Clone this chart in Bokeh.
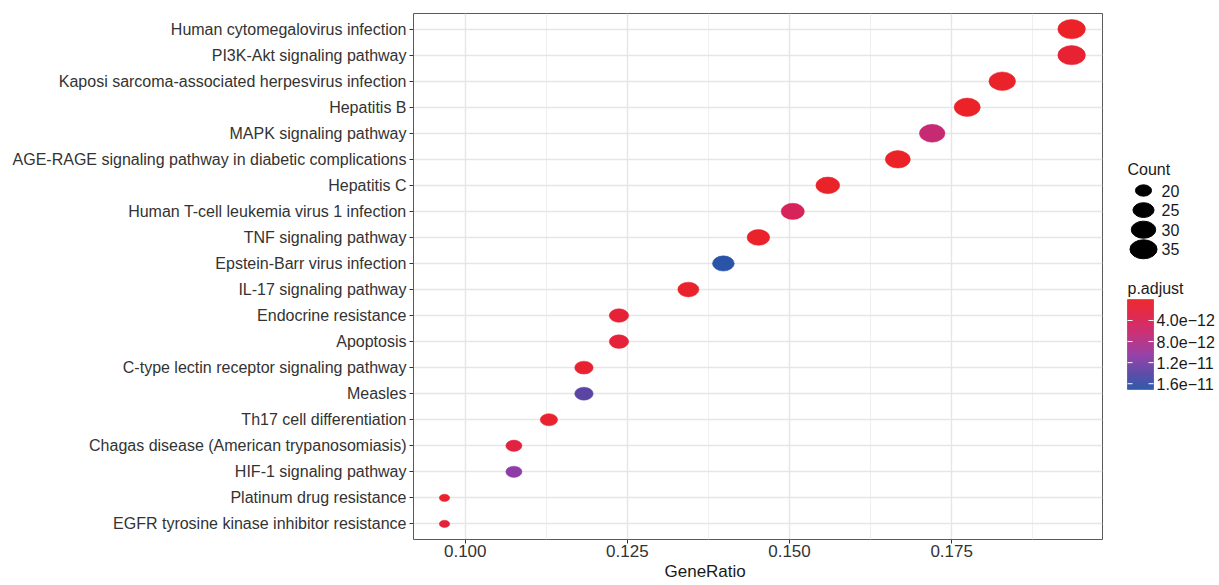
import numpy as np
from bokeh.plotting import figure
from bokeh.layouts import row
from bokeh.models import (Range1d, FixedTicker, ColumnDataSource, LinearColorMapper, Title)
from bokeh.core.properties import value
from bokeh.embed import file_html
from bokeh.resources import INLINE

# ---------------- data ----------------
pathways = [
    "Human cytomegalovirus infection",
    "PI3K-Akt signaling pathway",
    "Kaposi sarcoma-associated herpesvirus infection",
    "Hepatitis B",
    "MAPK signaling pathway",
    "AGE-RAGE signaling pathway in diabetic complications",
    "Hepatitis C",
    "Human T-cell leukemia virus 1 infection",
    "TNF signaling pathway",
    "Epstein-Barr virus infection",
    "IL-17 signaling pathway",
    "Endocrine resistance",
    "Apoptosis",
    "C-type lectin receptor signaling pathway",
    "Measles",
    "Th17 cell differentiation",
    "Chagas disease (American trypanosomiasis)",
    "HIF-1 signaling pathway",
    "Platinum drug resistance",
    "EGFR tyrosine kinase inhibitor resistance",
]
gene_ratio = [0.1935, 0.1935, 0.1828, 0.1774, 0.1720, 0.1667, 0.1559, 0.1505,
              0.1452, 0.1398, 0.1344, 0.1237, 0.1237, 0.1183, 0.1183, 0.1129,
              0.1075, 0.1075, 0.0968, 0.0968]
counts = [36, 36, 34, 33, 32, 31, 29, 28, 27, 26, 25, 23, 23, 22, 22, 21, 20, 20, 18, 18]
p_adjust = [1.0e-13, 1.2e-12, 3.0e-13, 2.0e-13, 6.5e-12, 2.0e-14, 4.0e-13, 4.5e-12,
            5.0e-13, 1.71e-11, 6.0e-13, 1.5e-12, 1.8e-12, 1.0e-12, 1.4e-11, 8.0e-13,
            2.5e-12, 1.1e-11, 5.0e-13, 2.0e-12]

x_ticks = [0.100, 0.125, 0.150, 0.175]
x_tick_labels = ["0.100", "0.125", "0.150", "0.175"]
x_minor = [0.1125, 0.1375, 0.1625, 0.1875]
count_breaks = [20, 25, 30, 35]
padj_ticks = [4.0e-12, 8.0e-12, 1.2e-11, 1.6e-11]
padj_tick_labels = ["4.0e\u221212", "8.0e\u221212", "1.2e\u221211", "1.6e\u221211"]

FONT = "Liberation Sans"
# colour gradient stops (fraction of p.adjust range, colour)
grad_pos = [0.0, 0.12, 0.26, 0.38, 0.64, 0.82, 1.0]
grad_col = ["#EB2227", "#E4223C", "#D6245A", "#C62A72", "#8E3CA8", "#5A45A5", "#2A54A7"]


def hex2rgb(h):
    return [int(h[i:i + 2], 16) for i in (1, 3, 5)]


stops = np.array([hex2rgb(c) for c in grad_col], dtype=float)
tt = np.linspace(0, 1, 256)
pal_rgb = np.stack([np.interp(tt, grad_pos, stops[:, k]) for k in range(3)], axis=1)
palette = ["#%02x%02x%02x" % tuple(int(round(v)) for v in c) for c in pal_rgb]

vmin, vmax = min(p_adjust), max(p_adjust)
mapper = LinearColorMapper(palette=palette, low=vmin, high=vmax)

cmin, cmax = min(counts), max(counts)


def dot_w(c):
    return 3.45 * (3 + 5 * np.sqrt((c - cmin) / (cmax - cmin)))


# ---------------- main panel ----------------
W1, H = 1115, 585
n = len(pathways)
ypos = [n - i for i in range(n)]
src = ColumnDataSource(dict(
    x=gene_ratio, y=ypos, padj=p_adjust,
    w=[dot_w(c) for c in counts], h=[0.7 * dot_w(c) for c in counts],
))

p = figure(width=W1, height=H, x_range=Range1d(0.09202, 0.19826),
           y_range=Range1d(0.4, n + 0.6), output_backend="svg", toolbar_location=None,
           min_border_left=413, min_border_right=13, min_border_top=13, min_border_bottom=46)
p.background_fill_color = "white"
p.border_fill_color = "white"
p.outline_line_color = "#5a5a5a"
p.outline_line_width = 1

p.ellipse(x="x", y="y", width="w", height="h", width_units="screen", height_units="screen",
          source=src, fill_color={"field": "padj", "transform": mapper},
          line_color={"field": "padj", "transform": mapper}, line_width=0.5)

p.xaxis.ticker = FixedTicker(ticks=x_ticks, minor_ticks=x_minor)
p.xaxis.major_label_overrides = {t: l for t, l in zip(x_ticks, x_tick_labels)}
p.yaxis.ticker = FixedTicker(ticks=ypos)
p.yaxis.major_label_overrides = {y: name for y, name in zip(ypos, pathways)}

for ax in (p.xaxis, p.yaxis):
    ax.axis_line_color = None
    ax.major_tick_line_color = "#333333"
    ax.major_tick_out = 4
    ax.major_tick_in = 0
    ax.minor_tick_line_color = None
    ax.major_label_text_font = FONT
    ax.major_label_text_color = "#333333"
    ax.major_label_standoff = 3
p.xaxis.major_label_standoff = 1
p.yaxis.major_label_text_font_size = "16px"
p.xaxis.major_label_text_font_size = "17px"

p.xgrid.ticker = FixedTicker(ticks=x_ticks, minor_ticks=x_minor)
p.ygrid.ticker = FixedTicker(ticks=ypos)
p.grid.grid_line_color = "#e6e6e6"
p.grid.grid_line_width = 1.4
p.xgrid.minor_grid_line_color = "#efefef"
p.xgrid.minor_grid_line_width = 1

# x-axis title (placed like the reference, left of the panel centre)
p.add_layout(Title(text="GeneRatio", align="left", offset=251, standoff=0,
                   text_font=FONT, text_font_size="17px", text_font_style="normal",
                   text_color="#1a1a1a"), "below")

# ---------------- legend panel (data units = page pixels) ----------------
W2 = 1219 - W1
lg = figure(width=W2, height=H, x_range=Range1d(W1, 1219), y_range=Range1d(539, 13),
            output_backend="svg", toolbar_location=None,
            min_border_left=0, min_border_right=0, min_border_top=13, min_border_bottom=46,
            x_axis_location=None, y_axis_location=None)
lg.outline_line_color = None
lg.grid.grid_line_color = None
lg.background_fill_color = "white"
lg.border_fill_color = "white"

# size legend
leg_y = [190 + 19.6 * i for i in range(len(count_breaks))]
lg.text(x=[1127], y=[169], text=["Count"], text_font=value(FONT), text_font_size="16px",
        text_baseline="middle", text_align="left", text_color="#1a1a1a")
lg.ellipse(x=[1143] * len(count_breaks), y=leg_y, width=[dot_w(c) for c in count_breaks],
           height=[0.7 * dot_w(c) for c in count_breaks], width_units="screen",
           height_units="screen", fill_color="black", line_color="black")
lg.text(x=[1161] * len(count_breaks), y=leg_y, text=[str(c) for c in count_breaks],
        text_font=value(FONT), text_font_size="16px", text_baseline="middle",
        text_align="left", text_color="#1a1a1a")

# colour bar
bar_top, bar_h, bar_l, bar_r = 299, 90, 1127, 1153
lg.text(x=[1127], y=[288], text=["p.adjust"], text_font=value(FONT), text_font_size="16px",
        text_baseline="middle", text_align="left", text_color="#1a1a1a")
vals = np.linspace(vmin, vmax, 91)
ys = bar_top + (vals - vmin) / (vmax - vmin) * bar_h
cb = ColumnDataSource(dict(top=ys[:-1], bottom=ys[1:], mid=(vals[:-1] + vals[1:]) / 2))
lg.quad(left=bar_l, right=bar_r, top="top", bottom="bottom", source=cb,
        fill_color={"field": "mid", "transform": mapper},
        line_color={"field": "mid", "transform": mapper}, line_width=0.6)
ty = [bar_top + (t - vmin) / (vmax - vmin) * bar_h for t in padj_ticks]
lg.segment(x0=[bar_l] * 4, x1=[bar_l + 5] * 4, y0=ty, y1=ty, line_color="white", line_width=1)
lg.segment(x0=[bar_r - 5] * 4, x1=[bar_r] * 4, y0=ty, y1=ty, line_color="white", line_width=1)
lg.text(x=[1156] * 4, y=ty, text=padj_tick_labels, text_font=value(FONT), text_font_size="16px",
        text_baseline="middle", text_align="left", text_color="#1a1a1a")

layout = row(p, lg)
open("out.html", "w").write(file_html(layout, INLINE))
